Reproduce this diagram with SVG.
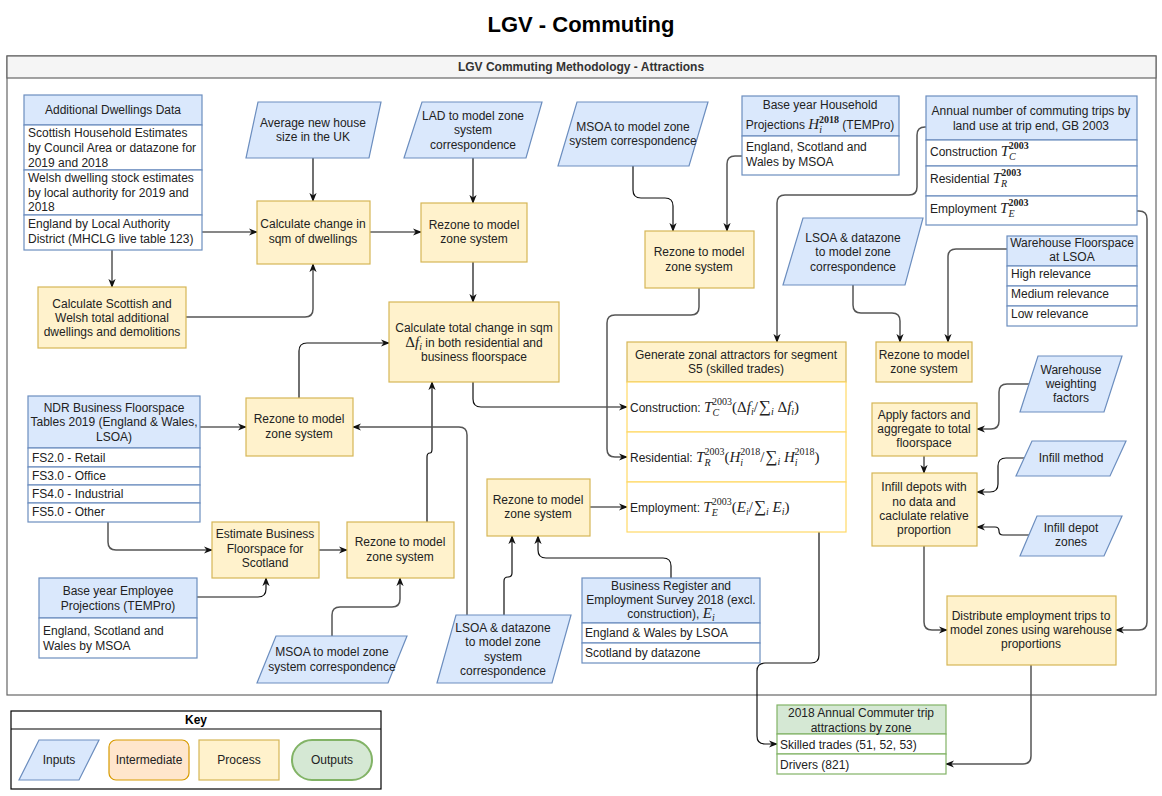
<svg xmlns="http://www.w3.org/2000/svg" width="1162" height="796" viewBox="0 0 1162 796">
<defs>
<style>
.inp{fill:#dae8fc;stroke:#6c8ebf;stroke-width:1.2}
.cell{fill:#ffffff;stroke:#6c8ebf;stroke-width:1.2}
.proc{fill:#fff2cc;stroke:#d6b656;stroke-width:1.2}
.gcell{fill:#ffffff;stroke:#ffd966;stroke-width:1.2}
.ohead{fill:#d5e8d4;stroke:#82b366;stroke-width:1.2}
.ocell{fill:#ffffff;stroke:#82b366;stroke-width:1.2}
.t{font-family:"Liberation Sans",Arial,sans-serif;font-size:12px;fill:#222}
.c{text-anchor:middle}
.b{font-weight:bold}
.mi{font-family:"Liberation Serif","DejaVu Serif",serif;font-style:italic;font-size:15px}
.mr{font-family:"Liberation Serif","DejaVu Serif",serif;font-size:15px}
.sum{font-family:"Liberation Serif","DejaVu Serif",serif;font-size:17px}
.si{font-family:"Liberation Serif","DejaVu Serif",serif;font-style:italic;font-size:10px}
.s{font-family:"Liberation Serif","DejaVu Serif",serif;font-size:10px}
.k{fill:none;stroke:#111;stroke-width:1.2;marker-end:url(#ak)}
.g{fill:none;stroke:#555;stroke-width:1.5;marker-end:url(#ag)}
</style>
<marker id="ak" viewBox="0 0 10 10" refX="9" refY="5" markerWidth="9" markerHeight="9" markerUnits="userSpaceOnUse" orient="auto"><path d="M0,1 L10,5 L0,9 L3,5 z" fill="#111"/></marker>
<marker id="ag" viewBox="0 0 10 10" refX="9" refY="5" markerWidth="9" markerHeight="9" markerUnits="userSpaceOnUse" orient="auto"><path d="M0,1 L10,5 L0,9 L3,5 z" fill="#111"/></marker>
</defs>
<rect width="1162" height="796" fill="#ffffff"/>
<text class="t c b" x="581" y="32" style="font-size:22px;fill:#000">LGV - Commuting</text>

<g id="container">
<rect x="7" y="56" width="1149" height="639" fill="#ffffff" stroke="#666" stroke-width="1.2"/>
<rect x="7" y="56" width="1149" height="22" fill="#f5f5f5" stroke="#666" stroke-width="1.2"/>
<text class="t c b" x="581" y="71" style="fill:#333">LGV Commuting Methodology - Attractions</text>
</g>

<g id="connectors">
<path class="k" d="M202,232 H257"/>
<path class="g" d="M112,250 V287"/>
<path class="k" d="M313,158 V201"/>
<path class="g" d="M186,317 H305 Q313,317 313,309 V264"/>
<path class="k" d="M370,232 H421"/>
<path class="k" d="M473,158 V203"/>
<path class="k" d="M473,262 V302"/>
<path class="k" d="M299,398 V351 Q299,343 307,343 H389"/>
<path class="k" d="M427,522 V457 Q427,453 430,453 Q432,453 432,449 V382"/>
<path class="g" d="M467,615 V435 Q467,427 459,427 H353"/>
<path class="k" d="M200,427 H246"/>
<path class="g" d="M108,522 V542 Q108,550 116,550 H212"/>
<path class="k" d="M197,597 H258 Q266,597 266,589 V578"/>
<path class="g" d="M319,550 H347"/>
<path class="g" d="M332,636 V615 Q332,607 340,607 H392 Q400,607 400,599 V578"/>
<path class="k" d="M473,382 V399 Q473,407 481,407 H627"/>
<path class="k" d="M633,166 V190 Q633,198 641,198 H665 Q673,198 673,206 V231"/>
<path class="g" d="M742,156 H735 Q727,156 727,164 V231"/>
<path class="g" d="M699,288 V307 Q699,315 691,315 H615 Q607,315 607,323 V449 Q607,457 615,457 H627"/>
<path class="g" d="M926,127 H925 Q917,127 917,135 V187 Q917,195 909,195 H785 Q777,195 777,203 V342"/>
<path class="k" d="M590,507 H627"/>
<path class="k" d="M504,615 V581 Q504,577 508,577 Q512,577 512,573 V536"/>
<path class="k" d="M671,578 V566 Q671,558 663,558 H546 Q538,558 538,550 V536"/>
<path class="k" d="M819,532 V655 Q819,663 811,663 H765 Q757,663 757,671 V736 Q757,744 765,744 H777"/>
<path class="g" d="M853,285 V305 Q853,313 861,313 H892 Q900,313 900,321 V342"/>
<path class="g" d="M1007,249 H956 Q948,249 948,257 V342"/>
<path class="g" d="M1137,211 H1139 Q1147,211 1147,219 V622 Q1147,630 1139,630 H1116"/>
<path class="g" d="M1029,384 H1007 Q999,384 999,392 V421 Q999,429 991,429 H977"/>
<path class="g" d="M924,456 V473"/>
<path class="k" d="M1025,458 H1006 Q998,458 998,466 V484 Q998,492 990,492 H977"/>
<path class="k" d="M1029,535 H1003 Q999,535 999,531 Q999,527 995,527 H977"/>
<path class="g" d="M924,546 V622 Q924,630 932,630 H947"/>
<path class="g" d="M1031,665 V756 Q1031,764 1023,764 H946"/>
</g>

<g id="additional-dwellings">
<rect class="inp" x="24" y="95" width="178" height="30"/>
<rect class="cell" x="24" y="125" width="178" height="45"/>
<rect class="cell" x="24" y="170" width="178" height="45"/>
<rect class="cell" x="24" y="215" width="178" height="35"/>
<text class="t c" x="113" y="114">Additional Dwellings Data</text>
<text class="t" x="28" y="137">Scottish Household Estimates</text>
<text class="t" x="28" y="152">by Council Area or datazone for</text>
<text class="t" x="28" y="167">2019 and 2018</text>
<text class="t" x="28" y="182">Welsh dwelling stock estimates</text>
<text class="t" x="28" y="197">by local authority for 2019 and</text>
<text class="t" x="28" y="211">2018</text>
<text class="t" x="28" y="228">England by Local Authority</text>
<text class="t" x="28" y="243">District (MHCLG live table 123)</text>
</g>

<g id="average-house">
<polygon class="inp" points="258,102 381,102 369,158 246,158"/>
<text class="t c" x="313" y="127">Average new house</text>
<text class="t c" x="313" y="141">size in the UK</text>
</g>

<g id="calc-change">
<rect class="proc" x="257" y="201" width="113" height="63"/>
<text class="t c" x="313" y="228">Calculate change in</text>
<text class="t c" x="313" y="243">sqm of dwellings</text>
</g>

<g id="calc-scottish">
<rect class="proc" x="38" y="287" width="148" height="61"/>
<text class="t c" x="112" y="308">Calculate Scottish and</text>
<text class="t c" x="112" y="322">Welsh total additional</text>
<text class="t c" x="112" y="336">dwellings and demolitions</text>
</g>

<g id="lad-corr">
<polygon class="inp" points="422,102 542,102 526,158 404,158"/>
<text class="t c" x="473" y="120">LAD to model zone</text>
<text class="t c" x="473" y="134">system</text>
<text class="t c" x="473" y="149">correspondence</text>
</g>

<g id="rezone1">
<rect class="proc" x="421" y="203" width="106" height="59"/>
<text class="t c" x="474" y="229">Rezone to model</text>
<text class="t c" x="474" y="243">zone system</text>
</g>

<g id="calc-total">
<rect class="proc" x="389" y="302" width="170" height="80"/>
<text class="t c" x="474" y="332">Calculate total change in sqm</text>
<text class="t c" x="474" y="347"><tspan class="mr">Δ</tspan><tspan class="mi">f</tspan><tspan class="si" dy="3">i</tspan><tspan dy="-3"> in both residential and</tspan></text>
<text class="t c" x="474" y="361">business floorspace</text>
</g>

<g id="msoa-top">
<polygon class="inp" points="577,102 708,102 689,166 558,166"/>
<text class="t c" x="633" y="131">MSOA to model zone</text>
<text class="t c" x="633" y="145">system correspondence</text>
</g>

<g id="household-proj">
<rect class="inp" x="742" y="96" width="157" height="40"/>
<rect class="cell" x="742" y="136" width="157" height="39"/>
<text class="t c" x="820" y="109">Base year Household</text>
<text class="t c" x="820" y="129">Projections <tspan class="mi">H</tspan><tspan class="si" dy="4">i</tspan><tspan class="s b" dx="-3" dy="-10">2018</tspan><tspan dy="6"> (TEMPro)</tspan></text>
<text class="t" x="746" y="151">England, Scotland and</text>
<text class="t" x="746" y="166">Wales by MSOA</text>
</g>

<g id="rezone2">
<rect class="proc" x="645" y="231" width="109" height="57"/>
<text class="t c" x="699" y="256">Rezone to model</text>
<text class="t c" x="699" y="271">zone system</text>
</g>

<g id="annual-trips">
<rect class="inp" x="926" y="96" width="211" height="44"/>
<rect class="cell" x="926" y="140" width="211" height="26"/>
<rect class="cell" x="926" y="166" width="211" height="30"/>
<rect class="cell" x="926" y="196" width="211" height="29"/>
<text class="t c" x="1031" y="115">Annual number of commuting trips by</text>
<text class="t c" x="1031" y="130">land use at trip end, GB 2003</text>
<text class="t" x="930" y="156">Construction <tspan class="mi">T</tspan><tspan class="si" dy="4">C</tspan><tspan class="s b" dx="-7" dy="-11">2003</tspan></text>
<text class="t" x="930" y="183">Residential <tspan class="mi">T</tspan><tspan class="si" dy="4">R</tspan><tspan class="s b" dx="-6" dy="-11">2003</tspan></text>
<text class="t" x="930" y="213">Employment <tspan class="mi">T</tspan><tspan class="si" dy="4">E</tspan><tspan class="s b" dx="-6" dy="-11">2003</tspan></text>
</g>

<g id="lsoa-right">
<polygon class="inp" points="803,218 923,218 905,285 783,285"/>
<text class="t c" x="853" y="242">LSOA &amp; datazone</text>
<text class="t c" x="853" y="256">to model zone</text>
<text class="t c" x="853" y="271">correspondence</text>
</g>

<g id="warehouse-fs">
<rect class="inp" x="1007" y="236" width="130" height="30"/>
<rect class="cell" x="1007" y="266" width="130" height="20"/>
<rect class="cell" x="1007" y="286" width="130" height="20"/>
<rect class="cell" x="1007" y="306" width="130" height="20"/>
<text class="t c" x="1072" y="247">Warehouse Floorspace</text>
<text class="t c" x="1072" y="261">at LSOA</text>
<text class="t" x="1011" y="278">High relevance</text>
<text class="t" x="1011" y="298">Medium relevance</text>
<text class="t" x="1011" y="318">Low relevance</text>
</g>

<g id="rezone3">
<rect class="proc" x="876" y="342" width="96" height="40"/>
<text class="t c" x="924" y="359">Rezone to model</text>
<text class="t c" x="924" y="373">zone system</text>
</g>

<g id="apply-factors">
<rect class="proc" x="872" y="403" width="105" height="53"/>
<text class="t c" x="924" y="419">Apply factors and</text>
<text class="t c" x="924" y="433">aggregate to total</text>
<text class="t c" x="924" y="447">floorspace</text>
</g>

<g id="warehouse-weighting">
<polygon class="inp" points="1038,356 1122,356 1104,412 1020,412"/>
<text class="t c" x="1071" y="374">Warehouse</text>
<text class="t c" x="1071" y="388">weighting</text>
<text class="t c" x="1071" y="402">factors</text>
</g>

<g id="infill-method">
<polygon class="inp" points="1032,441 1126,441 1110,476 1016,476"/>
<text class="t c" x="1071" y="462">Infill method</text>
</g>

<g id="infill-depots">
<rect class="proc" x="872" y="473" width="105" height="73"/>
<text class="t c" x="924" y="491">Infill depots with</text>
<text class="t c" x="924" y="506">no data and</text>
<text class="t c" x="924" y="520">caclulate relative</text>
<text class="t c" x="924" y="534">proportion</text>
</g>

<g id="infill-zones">
<polygon class="inp" points="1037,516 1122,516 1104,556 1020,556"/>
<text class="t c" x="1071" y="532">Infill depot</text>
<text class="t c" x="1071" y="546">zones</text>
</g>

<g id="distribute">
<rect class="proc" x="947" y="596" width="169" height="69"/>
<text class="t c" x="1031" y="620">Distribute employment trips to</text>
<text class="t c" x="1031" y="634">model zones using warehouse</text>
<text class="t c" x="1031" y="648">proportions</text>
</g>

<g id="generate">
<rect class="proc" x="627" y="342" width="219" height="40"/>
<rect class="gcell" x="627" y="382" width="219" height="50"/>
<rect class="gcell" x="627" y="432" width="219" height="50"/>
<rect class="gcell" x="627" y="482" width="219" height="50"/>
<text class="t c" x="736" y="359">Generate zonal attractors for segment</text>
<text class="t c" x="736" y="373">S5 (skilled trades)</text>
<text class="t" x="630" y="412">Construction: <tspan class="mi">T</tspan><tspan class="si" dy="4">C</tspan><tspan class="s" dx="-7" dy="-11">2003</tspan><tspan class="mr" dy="7">(Δ</tspan><tspan class="mi">f</tspan><tspan class="si" dy="3">i</tspan><tspan class="mr" dy="-3">/</tspan><tspan class="sum" dx="1">∑</tspan><tspan class="si" dy="3">i</tspan><tspan class="mr" dy="-3"> Δ</tspan><tspan class="mi">f</tspan><tspan class="si" dy="3">i</tspan><tspan class="mr" dy="-3">)</tspan></text>
<text class="t" x="630" y="462">Residential: <tspan class="mi">T</tspan><tspan class="si" dy="4">R</tspan><tspan class="s" dx="-6" dy="-11">2003</tspan><tspan class="mr" dy="7">(</tspan><tspan class="mi">H</tspan><tspan class="si" dy="4">i</tspan><tspan class="s" dx="-3" dy="-11">2018</tspan><tspan class="mr" dy="7">/</tspan><tspan class="sum" dx="1">∑</tspan><tspan class="si" dy="3">i</tspan><tspan class="mi" dy="-3"> H</tspan><tspan class="si" dy="4">i</tspan><tspan class="s" dx="-3" dy="-11">2018</tspan><tspan class="mr" dy="7">)</tspan></text>
<text class="t" x="630" y="512">Employment: <tspan class="mi">T</tspan><tspan class="si" dy="4">E</tspan><tspan class="s" dx="-6" dy="-11">2003</tspan><tspan class="mr" dy="7">(</tspan><tspan class="mi">E</tspan><tspan class="si" dy="3">i</tspan><tspan class="mr" dy="-3">/</tspan><tspan class="sum" dx="1">∑</tspan><tspan class="si" dy="3">i</tspan><tspan class="mi" dy="-3"> E</tspan><tspan class="si" dy="3">i</tspan><tspan class="mr" dy="-3">)</tspan></text>
</g>

<g id="rezone4">
<rect class="proc" x="487" y="479" width="103" height="57"/>
<text class="t c" x="538" y="504">Rezone to model</text>
<text class="t c" x="538" y="518">zone system</text>
</g>

<g id="bres">
<rect class="inp" x="582" y="578" width="178" height="45"/>
<rect class="cell" x="582" y="623" width="178" height="20"/>
<rect class="cell" x="582" y="643" width="178" height="20"/>
<text class="t c" x="671" y="590">Business Register and</text>
<text class="t c" x="671" y="604">Employment Survey 2018 (excl.</text>
<text class="t c" x="671" y="618">construction), <tspan class="mi">E</tspan><tspan class="si" dy="3">i</tspan></text>
<text class="t" x="585" y="637">England &amp; Wales by LSOA</text>
<text class="t" x="585" y="657">Scotland by datazone</text>
</g>

<g id="lsoa-bottom">
<polygon class="inp" points="456,615 571,615 552,683 437,683"/>
<text class="t c" x="503" y="632">LSOA &amp; datazone</text>
<text class="t c" x="503" y="646">to model zone</text>
<text class="t c" x="503" y="661">system</text>
<text class="t c" x="503" y="675">correspondence</text>
</g>

<g id="ndr">
<rect class="inp" x="28" y="396" width="172" height="52"/>
<rect class="cell" x="28" y="448" width="172" height="19"/>
<rect class="cell" x="28" y="467" width="172" height="18"/>
<rect class="cell" x="28" y="485" width="172" height="18"/>
<rect class="cell" x="28" y="503" width="172" height="19"/>
<text class="t c" x="114" y="412">NDR Business Floorspace</text>
<text class="t c" x="114" y="426">Tables 2019 (England &amp; Wales,</text>
<text class="t c" x="114" y="441">LSOA)</text>
<text class="t" x="32" y="462">FS2.0 - Retail</text>
<text class="t" x="32" y="480">FS3.0 - Office</text>
<text class="t" x="32" y="498">FS4.0 - Industrial</text>
<text class="t" x="32" y="516">FS5.0 - Other</text>
</g>

<g id="rezone-ndr">
<rect class="proc" x="246" y="398" width="107" height="58"/>
<text class="t c" x="299" y="423">Rezone to model</text>
<text class="t c" x="299" y="438">zone system</text>
</g>

<g id="estimate">
<rect class="proc" x="212" y="522" width="107" height="56"/>
<text class="t c" x="265" y="538">Estimate Business</text>
<text class="t c" x="265" y="553">Floorspace for</text>
<text class="t c" x="265" y="567">Scotland</text>
</g>

<g id="rezone-ndr2">
<rect class="proc" x="347" y="522" width="107" height="56"/>
<text class="t c" x="400" y="546">Rezone to model</text>
<text class="t c" x="400" y="561">zone system</text>
</g>

<g id="employee-proj">
<rect class="inp" x="39" y="578" width="158" height="40"/>
<rect class="cell" x="39" y="618" width="158" height="40"/>
<text class="t c" x="118" y="595">Base year Employee</text>
<text class="t c" x="118" y="610">Projections (TEMPro)</text>
<text class="t" x="43" y="635">England, Scotland and</text>
<text class="t" x="43" y="650">Wales by MSOA</text>
</g>

<g id="msoa-bottom">
<polygon class="inp" points="276,636 407,636 388,683 257,683"/>
<text class="t c" x="332" y="656">MSOA to model zone</text>
<text class="t c" x="332" y="671">system correspondence</text>
</g>

<g id="output">
<rect class="ohead" x="777" y="705" width="169" height="29"/>
<rect class="ocell" x="777" y="734" width="169" height="20"/>
<rect class="ocell" x="777" y="754" width="169" height="20"/>
<text class="t c" x="861" y="717">2018 Annual Commuter trip</text>
<text class="t c" x="861" y="732">attractions by zone</text>
<text class="t" x="780" y="749">Skilled trades (51, 52, 53)</text>
<text class="t" x="780" y="769">Drivers (821)</text>
</g>

<g id="key">
<rect x="11" y="711" width="370" height="78" fill="#ffffff" stroke="#000" stroke-width="1.2"/>
<line x1="11" y1="729" x2="381" y2="729" stroke="#000" stroke-width="1.2"/>
<text class="t c b" x="196" y="724" style="fill:#000">Key</text>
<polygon class="inp" points="39,740 99,740 79,780 19,780"/>
<text class="t c" x="59" y="764">Inputs</text>
<rect x="109" y="740" width="80" height="40" rx="7" fill="#ffe6cc" stroke="#d79b00" stroke-width="1.2"/>
<text class="t c" x="149" y="764">Intermediate</text>
<rect class="proc" x="199" y="740" width="80" height="40"/>
<text class="t c" x="239" y="764">Process</text>
<rect x="292" y="740" width="80" height="40" rx="20" fill="#d5e8d4" stroke="#82b366" stroke-width="2"/>
<text class="t c" x="332" y="764">Outputs</text>
</g>
</svg>
